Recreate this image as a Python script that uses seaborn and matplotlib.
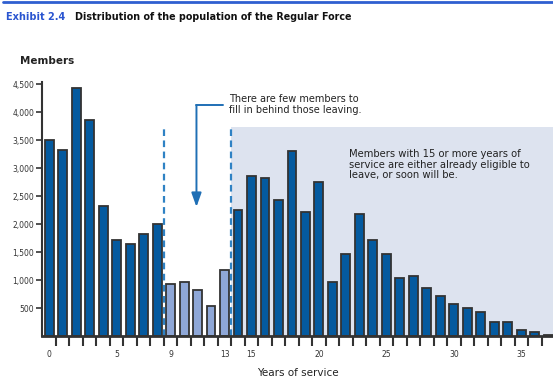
import matplotlib
matplotlib.use("Agg")
import matplotlib.pyplot as plt
import seaborn as sns
import pandas as pd
from matplotlib.lines import Line2D

# ---- data ----
years = list(range(38))
members = [3500, 3320, 4430, 3860, 2330, 1720, 1650, 1830, 2000,
           930, 975, 830, 540, 1185,
           2255, 2860, 2830, 2430, 3300, 2215, 2760, 970, 1470, 2185,
           1720, 1470, 1035, 1080, 860, 715, 580, 505, 435, 255, 255,
           110, 75, 30]
gap_years = [9, 10, 11, 12, 13]
xtick_labels = ["0", "5", "9", "13", "15", "20", "25", "30", "35"]
xtick_pos = [0, 5, 9, 13, 15, 20, 25, 30, 35]
ytick_vals = [500, 1000, 1500, 2000, 2500, 3000, 3500, 4000, 4500]

DARK = "#045a9f"
LIGHT = "#8ea7d7"
SHADE = "#dde3ef"
DASH = "#2f82c4"
EDGE = "#333333"

sns.set_theme(style="white")
plt.rcParams["font.family"] = ["Liberation Sans Narrow", "DejaVu Sans"]

df = pd.DataFrame({"year": [str(y) for y in years], "members": members,
                   "grp": ["gap" if y in gap_years else "main" for y in years]})

fig = plt.figure(figsize=(5.53, 3.79), dpi=100)
ax = fig.add_axes([42 / 553, (379 - 336.3) / 379, 1 - 42 / 553, (336.3 - 81.7) / 379])

sns.barplot(data=df, x="year", y="members", hue="grp",
            palette={"main": DARK, "gap": LIGHT}, order=[str(y) for y in years],
            dodge=False, legend=False, width=0.66, edgecolor=EDGE, linewidth=1.3,
            saturation=1, ax=ax, zorder=3)

xmax = 37.35
ax.set_xlim(-0.53, xmax)
ymax = 4546
ax.set_ylim(0, ymax)

# shaded region and dashed separators
shade_top = 3740
ax.axvspan(13.5, xmax, ymin=0, ymax=shade_top / ymax, color=SHADE, zorder=0, lw=0)
for xv in (8.5, 13.5):
    ax.plot([xv, xv], [0, shade_top], color=DASH, lw=1.6, ls=(0, (3, 2)), zorder=4)

# axes styling
for s in ("top", "right"):
    ax.spines[s].set_visible(False)
ax.spines["left"].set_color(EDGE)
ax.spines["left"].set_linewidth(1.5)
ax.spines["bottom"].set_color(EDGE)
ax.spines["bottom"].set_linewidth(2)
ax.spines["bottom"].set_zorder(5)

ax.set_yticks(ytick_vals)
ax.set_yticklabels([f"{v:,}" for v in ytick_vals], fontsize=5.5, color="#333333")
ax.tick_params(axis="y", direction="out", length=4, width=1.2, color=EDGE, pad=1.5, left=True)

ax.set_xticks([i + 0.5 for i in range(37)])
ax.set_xticklabels([])
ax.tick_params(axis="x", which="major", direction="out", length=7, width=1.5, color=EDGE, bottom=True)
ax.set_xticks(xtick_pos, minor=True)
ax.set_xticklabels(xtick_labels, minor=True, fontsize=5.5, color="#333333")
ax.tick_params(axis="x", which="minor", length=0, pad=10)

ax.set_xlabel("Years of service", fontsize=7.5, color="#222222", labelpad=6)
ax.set_ylabel("")
ax.grid(False)

# annotations
ax.annotate("", xy=(10.92, 2310), xytext=(10.92, 4125),
            arrowprops=dict(arrowstyle="-|>,head_width=0.25,head_length=0.7",
                            color="#1f6fb5", lw=1.4, shrinkA=0, shrinkB=0), zorder=6)
ax.plot([10.92, 12.88], [4125, 4125], color="#1f6fb5", lw=1.4, zorder=6)
ax.text(13.3, 4135, "There are few members to\nfill in behind those leaving.",
        fontsize=7, color="#222222", va="center", ha="left", linespacing=1.1)
ax.text(22.2, 3065, "Members with 15 or more years of\nservice are either already eligible to\nleave, or soon will be.",
        fontsize=7.2, color="#222222", va="center", ha="left", linespacing=1.1)

# title and header
fig.add_artist(Line2D([0.006, 1.0], [0.996, 0.996], color="#2f5fd0", lw=2))
fig.text(6 / 553, 1 - 17 / 379, "Exhibit 2.4", fontsize=7, fontweight="bold",
         color="#2a55d0", va="center", ha="left")
fig.text(75 / 553, 1 - 17 / 379, "Distribution of the population of the Regular Force",
         fontsize=6.9, fontweight="bold", color="#111111", va="center", ha="left")
fig.text(20 / 553, 1 - 61 / 379, "Members", fontsize=7.5, fontweight="bold",
         color="#222222", va="center", ha="left")

fig.savefig("out.png", dpi=100)
